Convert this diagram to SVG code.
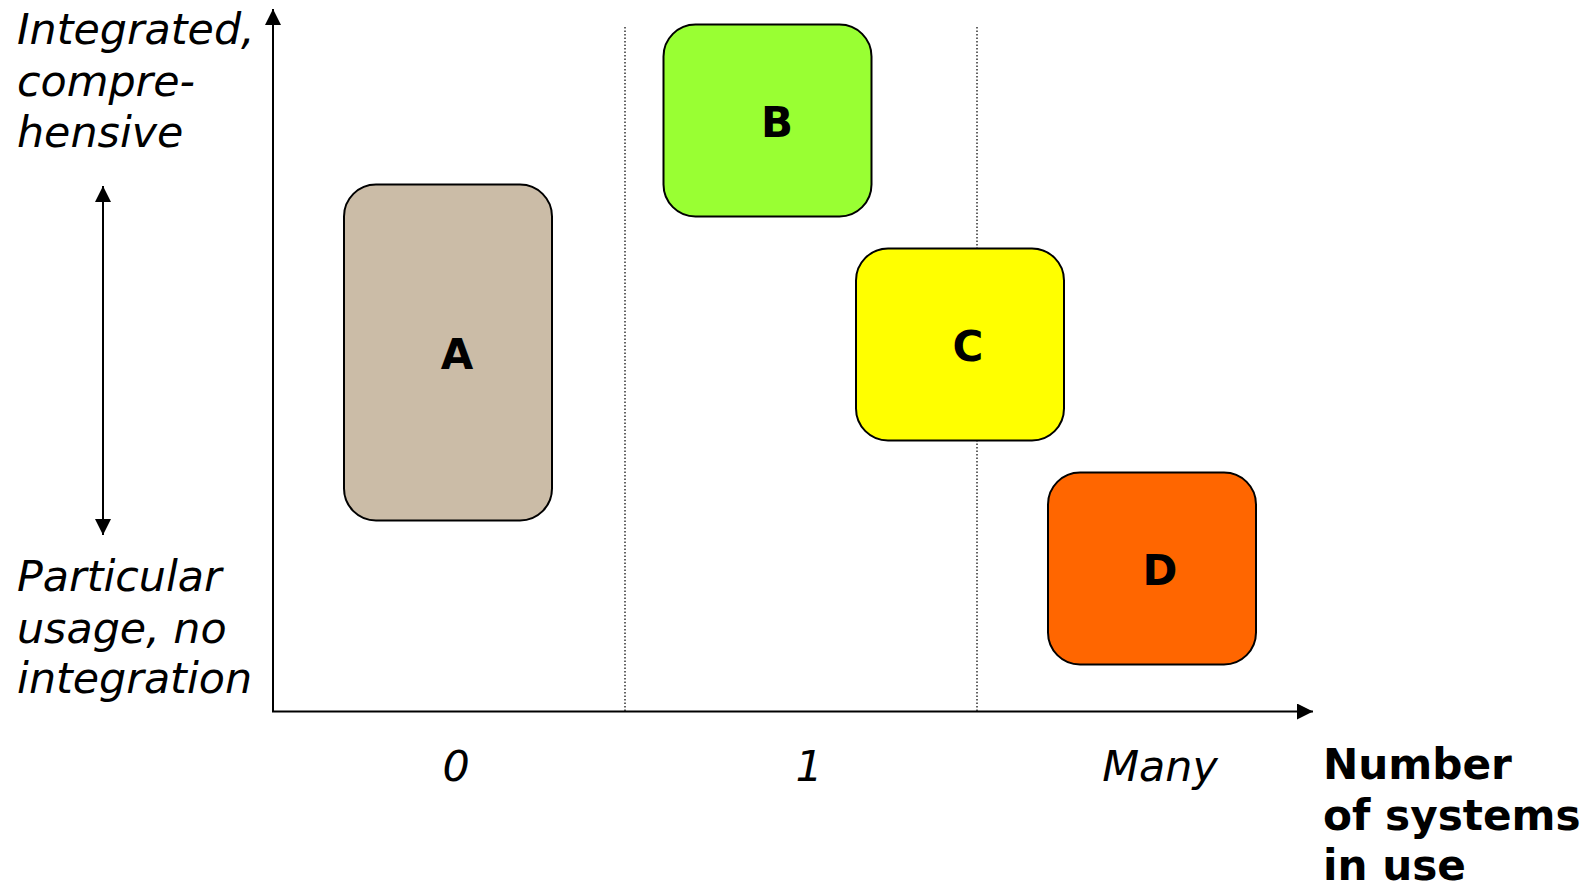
<svg xmlns="http://www.w3.org/2000/svg" width="1596" height="887" viewBox="0 0 1596 887">
<style>
.lbl{font-family:"DejaVu Sans",Verdana,sans-serif;font-style:italic;font-size:42.8px;fill:#000}
.ttl{font-family:"DejaVu Sans",Verdana,sans-serif;font-weight:bold;font-size:42.2px;fill:#000}
.box{stroke:#000;stroke-width:2}
.let{font-family:"DejaVu Sans",Verdana,sans-serif;font-weight:bold;font-size:42px;fill:#000;text-anchor:middle}
.ax{stroke:#000;stroke-width:2;fill:none}
.dot{stroke:#222;stroke-width:1.4;stroke-dasharray:1.4 2.1;fill:none}
</style>
<defs>
<marker id="ah2" viewBox="0 0 10 10" refX="10" refY="5" markerWidth="16" markerHeight="16" markerUnits="userSpaceOnUse" orient="auto-start-reverse">
<path d="M0,0 L10,5 L0,10 z" fill="#000"/>
</marker>
</defs>
<rect width="1596" height="887" fill="#fff"/>
<g id="connectors">
<line class="dot" x1="625" y1="27" x2="625" y2="711"/>
<line class="dot" x1="977" y1="27" x2="977" y2="711"/>
<line class="ax" x1="273" y1="711.5" x2="273" y2="9" marker-end="url(#ah2)"/>
<line class="ax" x1="272" y1="711.5" x2="1313" y2="711.5" marker-end="url(#ah2)"/>
<line class="ax" x1="103" y1="186" x2="103" y2="535" marker-start="url(#ah2)" marker-end="url(#ah2)"/>
</g>
<g id="ylabels">
<text class="lbl" x="17" y="44">Integrated,</text>
<text class="lbl" x="17" y="96">compre-</text>
<text class="lbl" x="17" y="147">hensive</text>
<text class="lbl" x="17" y="591">Particular</text>
<text class="lbl" x="17" y="643">usage, no</text>
<text class="lbl" x="17" y="693">integration</text>
</g>
<g id="xlabels">
<text class="lbl" x="456" y="781" text-anchor="middle">0</text>
<text class="lbl" x="809" y="781" text-anchor="middle">1</text>
<text class="lbl" x="1160" y="781" text-anchor="middle">Many</text>
<text class="ttl" x="1323" y="779">Number</text>
<text class="ttl" x="1323" y="830">of systems</text>
<text class="ttl" x="1323" y="880">in use</text>
</g>
<g id="nodeA">
<rect class="box" x="344" y="184.5" width="208" height="336" rx="32" fill="#CBBCA7"/>
<text class="let" x="457" y="369">A</text>
</g>
<g id="nodeB">
<rect class="box" x="663.5" y="24.5" width="208" height="192" rx="32" fill="#99FF33"/>
<text class="let" x="777" y="137">B</text>
</g>
<g id="nodeC">
<rect class="box" x="856" y="248.5" width="208" height="192" rx="32" fill="#FFFF00"/>
<text class="let" x="968" y="361">C</text>
</g>
<g id="nodeD">
<rect class="box" x="1048" y="472.5" width="208" height="192" rx="32" fill="#FF6600"/>
<text class="let" x="1160" y="585">D</text>
</g>
</svg>
